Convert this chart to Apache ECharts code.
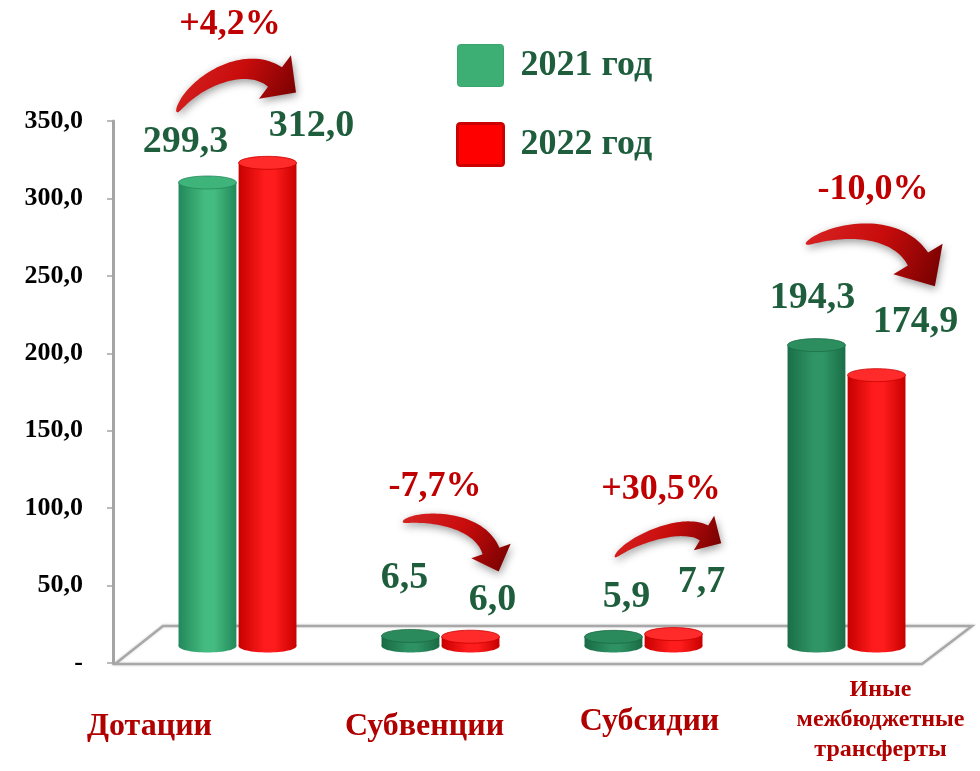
<!DOCTYPE html>
<html>
<head>
<meta charset="utf-8">
<script src="https://cdn.jsdelivr.net/npm/echarts@6/dist/echarts.min.js"></script>
<style>
  html, body { margin: 0; padding: 0; background: #ffffff; }
  #chart { width: 980px; height: 771px; }
</style>
</head>
<body>
<div id="chart"></div>
<script>
// ---- data ----
const categories = ['Дотации', 'Субвенции', 'Субсидии', 'Иные межбюджетные трансферты'];
const values2021 = [299.3, 6.5, 5.9, 194.3];
const values2022 = [312.0, 6.0, 7.7, 174.9];
const seriesNames = ['2021 год', '2022 год'];
const yMin = 0, yMax = 350, yStep = 50;

// ---- styling helpers ----
const SERIF = '"Liberation Serif", "Times New Roman", serif';
const comma = v => v.toFixed(1).replace('.', ',');
const pct = i => {
  const p = (values2022[i] - values2021[i]) / values2021[i] * 100;
  return (p > 0 ? '+' : '') + comma(p) + '%';
};

// value label shifts (px) from the top of each cylinder: [category][series]
const LABEL_SHIFT = [
  [[-22, -40], [44, -37]],
  [[-6, -58], [22, -37]],
  [[13, -40], [28, -52]],
  [[-4, -47], [39, -53]]
];

// green shading per category (front bars lit more)
const GREEN_TONES = [
  { edge: '#23885a', mid: '#44bb80', top: '#3fb47a' },
  { edge: '#1a6a44', mid: '#2d9163', top: '#2a8a5c' },
  { edge: '#1a6a44', mid: '#2d9163', top: '#2a8a5c' },
  { edge: '#1b6e47', mid: '#2f9566', top: '#2c8e5f' }
];
const RED_TONE = { edge: '#c80000', mid: '#ff1c1c', top: '#ff2a2a' };

function hGrad(t) {
  return {
    type: 'linear', x: 0, y: 0, x2: 1, y2: 0,
    colorStops: [
      { offset: 0, color: t.edge },
      { offset: 0.45, color: t.mid },
      { offset: 0.62, color: t.mid },
      { offset: 1, color: t.edge }
    ]
  };
}

function cylinderRenderer(sIdx) {
  return function (params, api) {
    const ci = api.value(0);
    const v = api.value(1);
    const top = api.coord([ci, v]);
    const base = api.coord([ci, 0]);
    const band = api.size([1, 0])[0];
    const w = band * 0.285;
    const cx = base[0] + (sIdx === 0 ? -1 : 1) * band * 0.148;
    const ry = 6.5;
    const tone = sIdx === 0 ? GREEN_TONES[ci] : RED_TONE;
    const shift = LABEL_SHIFT[ci][sIdx];
    const val = sIdx === 0 ? values2021[ci] : values2022[ci];
    return {
      type: 'group',
      children: [
        { type: 'ellipse', shape: { cx: cx, cy: base[1], rx: w / 2, ry: ry },
          style: { fill: hGrad(tone) } },
        { type: 'rect', shape: { x: cx - w / 2, y: top[1], width: w, height: base[1] - top[1] },
          style: { fill: hGrad(tone) } },
        { type: 'ellipse', shape: { cx: cx, cy: top[1], rx: w / 2, ry: ry },
          style: { fill: tone.top, stroke: tone.edge, lineWidth: 0.8 } },
        { type: 'text', x: cx + shift[0], y: top[1] + shift[1], z2: 20,
          style: { text: comma(val), fill: '#1e5e3c', font: 'bold 38px ' + SERIF,
                   align: 'center', verticalAlign: 'middle',
                   textAlign: 'center', textVerticalAlign: 'middle' } }
      ]
    };
  };
}

// ---- curved arrows ----
function cubic(p0, p1, p2, p3, t) {
  const u = 1 - t;
  return [
    u*u*u*p0[0] + 3*u*u*t*p1[0] + 3*u*t*t*p2[0] + t*t*t*p3[0],
    u*u*u*p0[1] + 3*u*u*t*p1[1] + 3*u*t*t*p2[1] + t*t*t*p3[1]
  ];
}
function arrowPoints(p0, p1, p2, p3, wEnd, headHalf, headLen) {
  const N = 40, left = [], right = [];
  for (let i = 0; i <= N; i++) {
    const t = i / N;
    const a = cubic(p0, p1, p2, p3, Math.max(0, t - 0.01));
    const b = cubic(p0, p1, p2, p3, Math.min(1, t + 0.01));
    let dx = b[0] - a[0], dy = b[1] - a[1];
    const L = Math.hypot(dx, dy) || 1; dx /= L; dy /= L;
    const nx = -dy, ny = dx;
    const p = cubic(p0, p1, p2, p3, t);
    const hw = wEnd * (0.08 + 0.92 * Math.pow(t, 0.6)) / 2;
    left.push([p[0] + nx * hw, p[1] + ny * hw]);
    right.push([p[0] - nx * hw, p[1] - ny * hw]);
  }
  let dx = p3[0] - p2[0], dy = p3[1] - p2[1];
  const L = Math.hypot(dx, dy); dx /= L; dy /= L;
  const nx = -dy, ny = dx;
  const head = [
    [p3[0] + nx * headHalf, p3[1] + ny * headHalf],
    [p3[0] + dx * headLen, p3[1] + dy * headLen],
    [p3[0] - nx * headHalf, p3[1] - ny * headHalf]
  ];
  return left.concat(head, right.reverse());
}
const ARROWS = [
  { c: [[177, 112], [192, 82], [245, 55], [275, 77]], w: 24, hh: 27, hl: 26, label: [230, 25] },
  { c: [[403, 522], [418, 515], [478, 516], [491, 551]], w: 18, hh: 21, hl: 22, label: [435, 487] },
  { c: [[615, 557], [630, 540], [682, 520], [704, 533]], w: 17, hh: 20, hl: 20, label: [661, 490] },
  { c: [[806, 244], [835, 228], [895, 222], [918, 259]], w: 24, hh: 29, hl: 32, label: [873, 190] }
];
const arrowFill = {
  type: 'linear', x: 0, y: 0, x2: 1, y2: 1,
  colorStops: [
    { offset: 0, color: '#d82424' },
    { offset: 0.5, color: '#c80c0c' },
    { offset: 1, color: '#700000' }
  ]
};

const graphics = [
  // floor of the plot
  { type: 'polygon', z: 0,
    shape: { points: [[115, 664], [163, 626], [972, 626], [922, 664]] },
    style: { fill: '#ffffff', stroke: '#a8a8a8', lineWidth: 2.5,
             shadowBlur: 3, shadowColor: 'rgba(0,0,0,0.15)' } }
];
ARROWS.forEach((a, i) => {
  graphics.push({
    type: 'polygon', z: 10,
    shape: { points: arrowPoints(a.c[0], a.c[1], a.c[2], a.c[3], a.w, a.hh, a.hl) },
    style: { fill: arrowFill, shadowBlur: 9, shadowColor: 'rgba(0,0,0,0.4)',
             shadowOffsetX: 1, shadowOffsetY: 3 }
  });
  graphics.push({
    type: 'text', z: 11, x: a.label[0], y: a.label[1],
    style: { text: pct(i), fill: '#c00000', font: 'bold 36px ' + SERIF,
             align: 'center', verticalAlign: 'middle',
             textAlign: 'center', textVerticalAlign: 'middle' }
  });
});

const catBase = { fontSize: 32, fontWeight: 'bold', fontFamily: SERIF, color: '#b00000', lineHeight: 34 };
const catRich = {
  c0: Object.assign({}, catBase, { padding: [70, 176, 0, 0] }),
  c1: Object.assign({}, catBase, { padding: [70, 32, 0, 0] }),
  c2: Object.assign({}, catBase, { padding: [60, 0, 0, 12] }),
  c3: { fontSize: 24, fontWeight: 'bold', fontFamily: SERIF, color: '#b00000', lineHeight: 30, padding: [0, 0, 0, 68] }
};

const legendIcon = 'path://M3,0 H43 Q46,0 46,3 V39 Q46,42 43,42 H3 Q0,42 0,39 V3 Q0,0 3,0 Z';

const chart = echarts.init(document.getElementById('chart'), null, { renderer: 'canvas' });
chart.setOption({
  backgroundColor: '#ffffff',
  animation: false,
  legend: {
    orient: 'vertical', left: 451, top: 39,
    itemWidth: 46, itemHeight: 42, itemGap: 35,
    textStyle: { fontSize: 36, fontWeight: 'bold', fontFamily: SERIF, color: '#1e5e3c', padding: [0, 0, 0, 12] },
    data: [
      { name: seriesNames[0], icon: legendIcon, itemStyle: { color: '#3daf75', borderColor: '#38a56d', borderWidth: 1 } },
      { name: seriesNames[1], icon: legendIcon, itemStyle: { color: '#ff0000', borderColor: '#cc0000', borderWidth: 3 } }
    ]
  },
  grid: [
    { left: 113, top: 121, width: 10, height: 542 },
    { left: 136, top: 104, width: 812, height: 542 }
  ],
  xAxis: [
    { gridIndex: 0, type: 'value', show: false },
    { gridIndex: 1, type: 'category', data: categories,
      axisLine: { show: false }, axisTick: { show: false },
      axisLabel: {
        interval: 0, margin: 29,
        formatter: (v, i) => i === 3
          ? v.split(' ').map(s => '{c3|' + s + '}').join('\n')
          : '{c' + i + '|' + v + '}',
        rich: catRich
      } }
  ],
  yAxis: [
    { gridIndex: 0, type: 'value', min: yMin, max: yMax, interval: yStep,
      axisLine: { show: true, lineStyle: { color: '#a4a4a4', width: 3 } },
      axisTick: { show: true, length: 6, lineStyle: { color: '#a4a4a4', width: 1.5 } },
      splitLine: { show: false },
      axisLabel: { margin: 30, fontSize: 26, fontWeight: 'bold', fontFamily: SERIF, color: '#000000',
                   formatter: v => v === 0 ? '-' : comma(v) } },
    { gridIndex: 1, type: 'value', min: yMin, max: yMax, show: false }
  ],
  graphic: graphics,
  series: [
    { name: seriesNames[0], type: 'custom', xAxisIndex: 1, yAxisIndex: 1, z: 5,
      itemStyle: { color: '#3daf75' },
      renderItem: cylinderRenderer(0),
      encode: { x: 0, y: 1 },
      data: values2021.map((v, i) => [i, v]) },
    { name: seriesNames[1], type: 'custom', xAxisIndex: 1, yAxisIndex: 1, z: 5,
      itemStyle: { color: '#ff0000' },
      renderItem: cylinderRenderer(1),
      encode: { x: 0, y: 1 },
      data: values2022.map((v, i) => [i, v]) }
  ]
});
</script>
</body>
</html>
